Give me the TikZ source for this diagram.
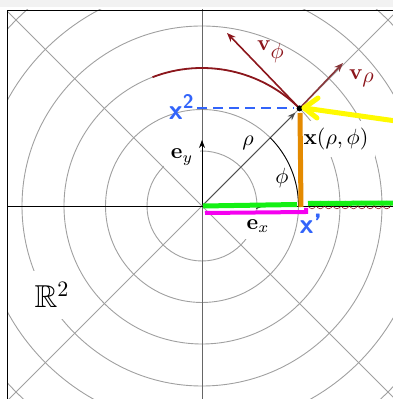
\documentclass[tikz,border=0pt]{standalone}
\usepackage{amsmath,amssymb}
\usetikzlibrary{arrows.meta}
\definecolor{darkred}{RGB}{140,22,28}
\definecolor{gridgray}{RGB}{160,160,160}
\definecolor{hlblue}{RGB}{50,100,250}
\definecolor{hlgreen}{RGB}{20,240,20}
\definecolor{hlorange}{RGB}{228,138,0}
\definecolor{hlmag}{RGB}{245,0,240}
\definecolor{hlyellow}{RGB}{255,250,0}
\begin{document}
\begin{tikzpicture}[x=1pt,y=1pt,
  lbl/.style={scale=2.2, inner sep=3pt},
  lblw/.style={lbl, fill=white},
  gridline/.style={gridgray, line width=0.9pt},
  vec/.style={-{Stealth[length=8pt,width=6pt]}, line width=0.8pt},
  redvec/.style={-{Stealth[length=9pt,width=7pt]}, line width=1.6pt},
  hand/.style={line width=5pt},
  handtext/.style={text=hlblue, font=\sffamily\bfseries, inner sep=0pt}]
\useasboundingbox (0,0) rectangle (393,399);
\fill[black!5] (0,392) rectangle (393,399);
\coordinate (O) at (202,193);
\path (O) ++(45:138) coordinate (P);
% concentric circles
\begin{scope}
  \clip (7,-5) rectangle (400,389);
  \foreach \r in {55,96.5,138,180,221.5,263,305}
    \draw[gridline] (O) circle (\r);
\end{scope}
% white-backed labels
\node[lblw] (ey) at (182,242) {$\mathbf{e}_y$};
\node[lblw] (ex) at (258,173) {$\mathbf{e}_x$};
\node[lblw, font=\Large, inner sep=5pt] (R2) at (52,104) {$\mathbb{R}^2$};
\node[lblw] (X) at (336,260) {$\mathbf{x}(\rho,\phi)$};
% radial lines and axes
\begin{scope}
  \clip (7,-5) rectangle (400,389);
  \foreach \a in {45,135,225,315}
    \draw[gridline] (O) -- +(\a:420);
  \draw[black, line width=0.8pt] (O) -- +(180:300);
  \draw[black, line width=0.8pt] (O) -- +(0:300);
  \draw[black!60, line width=0.9pt] (O) -- +(90:300);
  \draw[black!60, line width=0.9pt] (O) -- +(270:300);
\end{scope}
% frame
\draw[black, line width=0.9pt] (7,-5) -- (7,389) -- (400,389);
% basis vectors
\coordinate (EY) at (202,259);
\coordinate (EX) at (264,193);
\draw[vec] (O) -- (EY);
\draw[vec] (O) -- (EX);
% rho vector and phi arc
\path (O) ++(45:132) coordinate (Ptip);
\draw[vec, black!70] (O) -- (Ptip);
\draw[black, line width=0.8pt] (O) ++(0:96.5) arc[start angle=0, end angle=45, radius=96.5];
\node[lbl] (rho) at (248,256) {$\rho$};
\node[lbl] (phi) at (282,221) {$\phi$};
% coordinate curve and tangent vectors
\draw[darkred, line width=1.8pt] (P) arc[start angle=45, end angle=111, radius=138];
\coordinate (Vphi) at (227,366);
\coordinate (Vrho) at (343,336);
\draw[redvec, darkred] (P) -- (Vphi);
\draw[redvec, darkred!70!gray] (P) -- (Vrho);
\node[lbl, text=darkred] (vphi) at (271,347) {$\mathbf{v}_{\textstyle\phi}$};
\node[lbl, text=darkred] (vrho) at (362,321) {$\mathbf{v}_{\textstyle\rho}$};
\fill (P) circle (3);
% bumps under the x-axis
\foreach \x in {312,320.3,...,392}
  \draw[darkred, line width=0.6pt] (\x,194) circle (3.8);
% hand annotations
\node[handtext, scale=2.8] (x2) at (182,292) {x\textsuperscript{2}};
\coordinate (B1) at (197,291);
\coordinate (B2) at (294,291);
\draw[hlblue, line width=2.8pt, dash pattern=on 10pt off 6pt] (B1) -- (B2);
\coordinate (Y0) at (396,278);
\coordinate (Y1) at (304,291);
\coordinate (Ya) at (318,301);
\coordinate (Yb) at (317,281);
\draw[hlyellow, hand, line cap=round] (Y0) -- (Y1);
\draw[hlyellow, hand, line cap=round, line join=round] (Ya) -- (Y1) -- (Yb);
\coordinate (Or1) at (300,286);
\coordinate (Or2) at (301,192);
\draw[hlorange, hand] (Or1) -- (Or2);
\coordinate (G1) at (203,193);
\coordinate (G2) at (297,194.5);
\coordinate (G3) at (308,195.5);
\coordinate (G4) at (396,196);
\draw[hlgreen, hand] (G1) -- (G2);
\draw[hlgreen, hand] (G3) -- (G4);
\coordinate (M1) at (205,186);
\coordinate (M2) at (306,187);
\coordinate (M3) at (306,191);
\draw[hlmag, line width=4pt] (M1) -- (M2) -- (M3);
\node[handtext, scale=2.8] (x1) at (311,175) {x'};
\end{tikzpicture}
\end{document}
